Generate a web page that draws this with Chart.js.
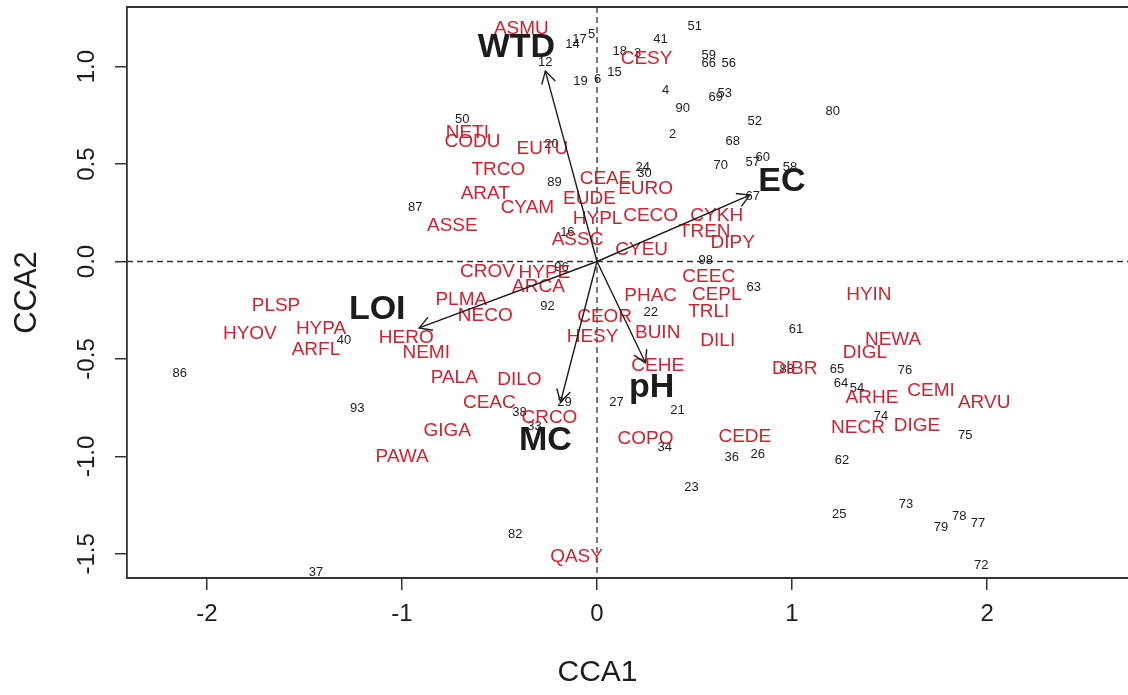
<!DOCTYPE html>
<html>
<head>
<meta charset="utf-8">
<script src="https://cdn.jsdelivr.net/npm/chart.js@4.4.1/dist/chart.umd.min.js"></script>
<style>
html,body{margin:0;padding:0;background:#fff;overflow:hidden;}
#wrap{width:1128px;height:695px;}
</style>
</head>
<body>
<div id="wrap"><canvas id="c" width="1128" height="695"></canvas></div>
<script>
// ---- Data ----
const xTicks = [-2, -1, 0, 1, 2];
const yTicks = [-1.5, -1.0, -0.5, 0.0, 0.5, 1.0];

const siteLabels = ['51','41','14','17','5','18','3','12','19','6','15','59','66','56','4','90','69','53','52','80','2','68','70','57','60','58','67','24','30','50','20','89','87','16','98','96','92','22','63','61','88','65','64','54','76','74','75','62','36','26','34','21','27','23','25','73','78','77','79','72','29','38','33','82','37','93','86','40'];
const siteX = [0.501,0.326,-0.126,-0.090,-0.028,0.116,0.208,-0.265,-0.085,0.003,0.090,0.573,0.573,0.675,0.352,0.439,0.609,0.655,0.809,1.209,0.388,0.696,0.634,0.799,0.850,0.989,0.799,0.234,0.244,-0.691,-0.234,-0.218,-0.932,-0.152,0.557,-0.182,-0.254,0.275,0.804,1.020,0.973,1.230,1.251,1.333,1.579,1.456,1.888,1.256,0.691,0.824,0.347,0.413,0.100,0.485,1.242,1.584,1.857,1.954,1.764,1.970,-0.167,-0.398,-0.321,-0.419,-1.441,-1.230,-2.139,-1.297];
const siteY = [1.208,1.142,1.116,1.142,1.163,1.078,1.068,1.024,0.926,0.936,0.972,1.060,1.014,1.019,0.880,0.788,0.844,0.864,0.720,0.772,0.654,0.618,0.495,0.511,0.536,0.485,0.336,0.485,0.454,0.731,0.603,0.408,0.275,0.151,0.008,-0.028,-0.233,-0.259,-0.131,-0.351,-0.552,-0.552,-0.623,-0.649,-0.557,-0.793,-0.890,-1.019,-1.003,-0.988,-0.952,-0.762,-0.721,-1.157,-1.296,-1.244,-1.306,-1.342,-1.367,-1.562,-0.721,-0.772,-0.844,-1.398,-1.593,-0.752,-0.572,-0.403];

const speciesLabels = ['ASMU','CESY','NETI','CODU','EUTU','TRCO','CEAE','EURO','ARAT','CYAM','EUDE','HYPL','CECO','CYKH','ASSE','ASSC','TREN','DIPY','CYEU','CROV','HYPE','ARCA','CEEC','PHAC','CEPL','PLMA','NECO','CEOR','TRLI','HESY','BUIN','DILI','HERO','NEMI','CEHE','PLSP','HYOV','HYPA','ARFL','PALA','DILO','CEAC','CRCO','GIGA','PAWA','COPO','CEDE','QASY','HYIN','NEWA','DIGL','DIBR','ARHE','CEMI','ARVU','NECR','DIGE'];
const speciesX = [-0.388,0.254,-0.665,-0.639,-0.280,-0.506,0.044,0.249,-0.573,-0.357,-0.039,0.003,0.275,0.614,-0.742,-0.100,0.552,0.696,0.229,-0.562,-0.270,-0.300,0.573,0.275,0.614,-0.696,-0.573,0.039,0.573,-0.023,0.311,0.619,-0.978,-0.876,0.311,-1.646,-1.780,-1.415,-1.441,-0.732,-0.398,-0.552,-0.244,-0.768,-0.999,0.249,0.758,-0.105,1.394,1.518,1.374,1.014,1.410,1.713,1.985,1.338,1.641];
const speciesY = [1.193,1.039,0.659,0.613,0.577,0.469,0.423,0.372,0.346,0.275,0.321,0.218,0.233,0.233,0.182,0.110,0.151,0.095,0.059,-0.054,-0.059,-0.131,-0.080,-0.177,-0.172,-0.198,-0.280,-0.285,-0.259,-0.387,-0.367,-0.408,-0.393,-0.469,-0.536,-0.228,-0.372,-0.346,-0.454,-0.598,-0.608,-0.726,-0.804,-0.870,-1.003,-0.911,-0.901,-1.516,-0.172,-0.403,-0.469,-0.552,-0.700,-0.664,-0.726,-0.851,-0.844];

const envLabels = ['WTD','EC','LOI','pH','MC'];
const envX = [-0.265, 0.783, -0.912, 0.249, -0.187];
const envY = [0.977, 0.341, -0.341, -0.521, -0.721];
const envLabelX = [-0.413, 0.948, -1.127, 0.280, -0.265];
const envLabelY = [1.100, 0.408, -0.249, -0.649, -0.921];

// ---- Chart ----
const FONT = "'Liberation Sans', Arial, Helvetica, sans-serif";
const RED = '#cd2330';
const INK = '#1c1c1c';

const datasets = [];
datasets.push({ label: 'sites', data: siteX.map((v, i) => ({ x: v, y: siteY[i] })), pointRadius: 0, showLine: false });
datasets.push({ label: 'species', data: speciesX.map((v, i) => ({ x: v, y: speciesY[i] })), pointRadius: 0, showLine: false });
datasets.push({ label: 'envlabels', data: envLabelX.map((v, i) => ({ x: v, y: envLabelY[i] })), pointRadius: 0, showLine: false });
envLabels.forEach((n, i) => {
  datasets.push({ label: 'arrow-' + n, data: [{ x: 0, y: 0 }, { x: envX[i], y: envY[i] }],
    showLine: true, borderColor: INK, borderWidth: 1.4, pointRadius: 0, fill: false });
});

function drawTexts(chart, dsIndex, labels, font, color) {
  const ctx = chart.ctx;
  const meta = chart.getDatasetMeta(dsIndex);
  ctx.save();
  ctx.font = font; ctx.fillStyle = color;
  ctx.textAlign = 'center'; ctx.textBaseline = 'middle';
  meta.data.forEach((el, i) => ctx.fillText(labels[i], el.x, el.y));
  ctx.restore();
}

const biplotPlugin = {
  id: 'biplot',
  beforeDatasetsDraw(chart) {
    const { ctx, chartArea, scales } = chart;
    const px = scales.x.getPixelForValue(0), py = scales.y.getPixelForValue(0);
    ctx.save();
    ctx.setLineDash([6, 4]);
    ctx.strokeStyle = '#333'; ctx.lineWidth = 1.3;
    ctx.beginPath();
    ctx.moveTo(px, chartArea.top); ctx.lineTo(px, chartArea.bottom);
    ctx.moveTo(chartArea.left, py); ctx.lineTo(chart.width, py);
    ctx.stroke();
    ctx.restore();
    drawTexts(chart, 0, siteLabels, '13px ' + FONT, INK);
    drawTexts(chart, 1, speciesLabels, '19px ' + FONT, RED);
  },
  afterDatasetsDraw(chart) {
    const ctx = chart.ctx;
    ctx.save();
    ctx.strokeStyle = INK; ctx.lineWidth = 1.4;
    envLabels.forEach((n, i) => {
      const meta = chart.getDatasetMeta(3 + i);
      const a = meta.data[0], b = meta.data[1];
      const ang = Math.atan2(b.y - a.y, b.x - a.x);
      const L = 14, h = Math.PI / 6;
      ctx.beginPath();
      ctx.moveTo(b.x - L * Math.cos(ang - h), b.y - L * Math.sin(ang - h));
      ctx.lineTo(b.x, b.y);
      ctx.lineTo(b.x - L * Math.cos(ang + h), b.y - L * Math.sin(ang + h));
      ctx.stroke();
    });
    ctx.restore();
    drawTexts(chart, 2, envLabels, 'bold 34px ' + FONT, INK);
  },
  afterDraw(chart) {
    // plot box (continues past the right edge of the picture)
    const { ctx, chartArea } = chart;
    ctx.save();
    ctx.strokeStyle = '#333'; ctx.lineWidth = 1.8;
    ctx.beginPath();
    ctx.moveTo(chartArea.left - 0.9, chartArea.top);
    ctx.lineTo(chart.width, chartArea.top);
    ctx.moveTo(chartArea.left - 0.9, chartArea.bottom);
    ctx.lineTo(chart.width, chartArea.bottom);
    ctx.stroke();
    ctx.restore();
  }
};

new Chart(document.getElementById('c'), {
  type: 'scatter',
  data: { datasets },
  options: {
    responsive: false,
    animation: false,
    devicePixelRatio: 1,
    layout: { padding: { top: 7, right: 60, bottom: 0, left: 0 } },
    plugins: { legend: { display: false }, tooltip: { enabled: false } },
    scales: {
      x: {
        type: 'linear', min: -2.41, max: 2.415,
        afterFit(s) { s.height = 117; s.paddingLeft = 0; s.paddingRight = 0; },
        afterBuildTicks(s) { s.ticks = xTicks.map(v => ({ value: v })); },
        ticks: { includeBounds: false, color: INK, font: { size: 24, family: FONT }, padding: 10,
          callback: v => String(v) },
        grid: { drawOnChartArea: false, drawTicks: true, tickLength: 12, color: '#333', lineWidth: 1.5 },
        border: { display: false },
        title: { display: true, text: 'CCA1', color: INK, font: { size: 30, family: FONT }, padding: { top: 0, bottom: 4 } }
      },
      y: {
        type: 'linear', min: -1.624, max: 1.306,
        afterFit(s) { s.width = 127; s.paddingTop = 0; s.paddingBottom = 0; },
        afterBuildTicks(s) { s.ticks = yTicks.map(v => ({ value: v })); },
        ticks: { includeBounds: false, color: INK, font: { size: 24, family: FONT }, padding: 7,
          minRotation: 90, maxRotation: 90, crossAlign: 'center',
          callback: v => Number(v).toFixed(1) },
        grid: { drawOnChartArea: false, drawTicks: true, tickLength: 12, color: '#333', lineWidth: 1.5 },
        border: { display: true, color: '#333', width: 1.8 },
        title: { display: true, text: 'CCA2', color: INK, font: { size: 31, family: FONT }, padding: { top: 9, bottom: 0 } }
      }
    }
  },
  plugins: [biplotPlugin]
});
</script>
</body>
</html>
